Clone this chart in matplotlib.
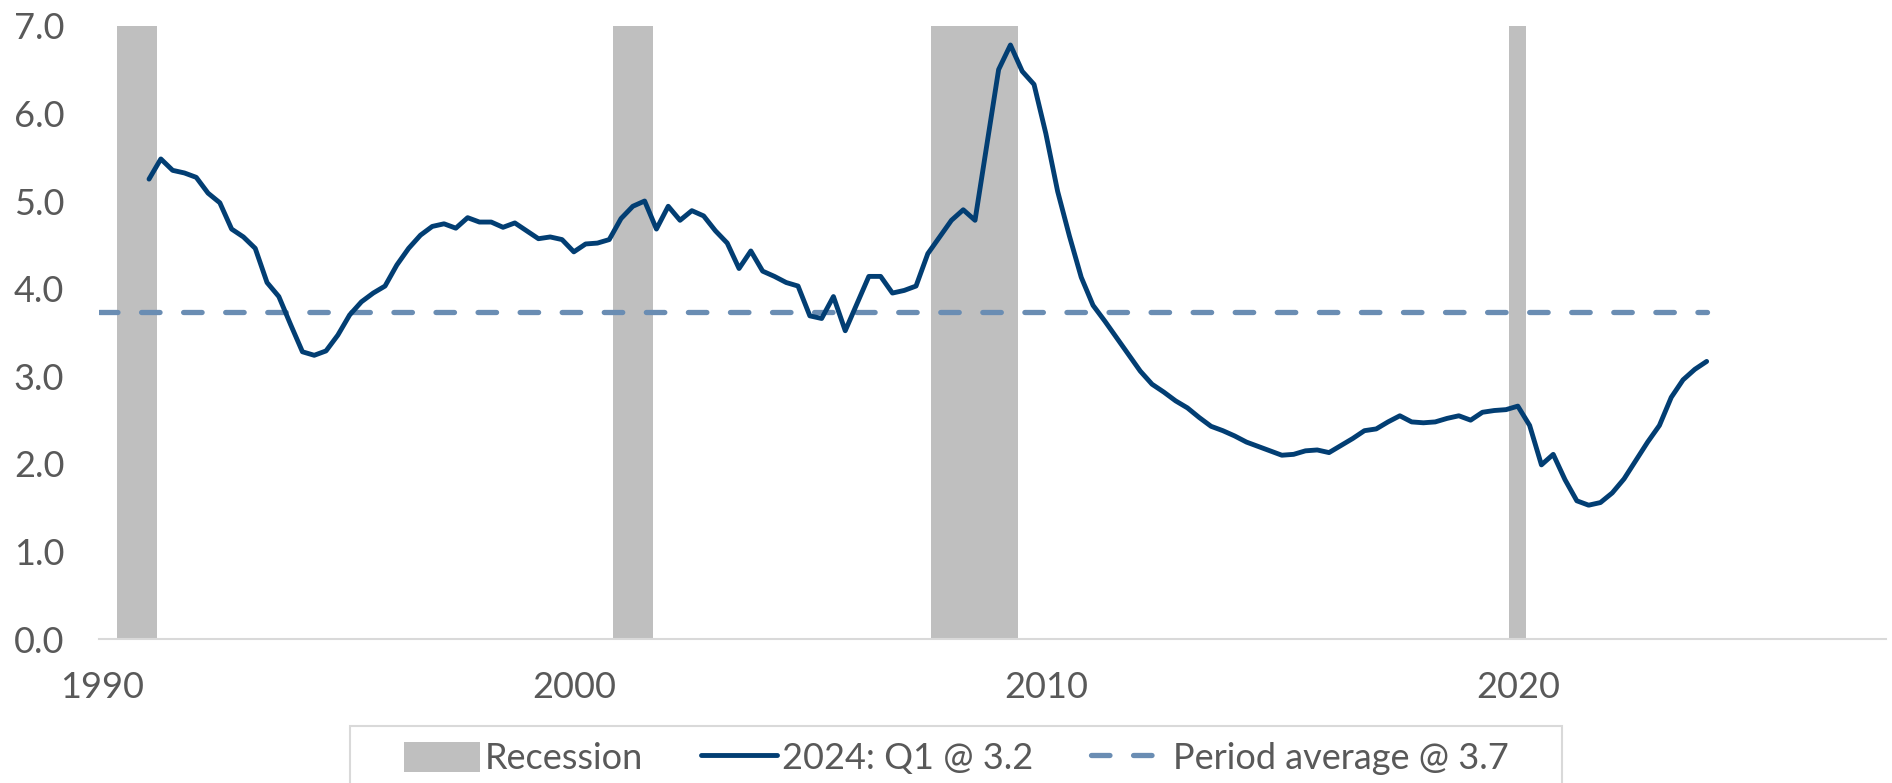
import numpy as np
import matplotlib
matplotlib.use("Agg")
import matplotlib.pyplot as plt
from matplotlib.patches import Patch, Rectangle
from matplotlib.lines import Line2D


#quarterly series, 1991 Q1 .. 2024 Q1
first_year = 1991
values = [
    5.25, 5.48, 5.35, 5.32,   #1991
    5.27, 5.09, 4.98, 4.68,   #1992
    4.59, 4.46, 4.07, 3.91,   #1993
    3.59, 3.28, 3.24, 3.29,   #1994
    3.47, 3.70, 3.85, 3.95,   #1995
    4.03, 4.27, 4.46, 4.61,   #1996
    4.71, 4.74, 4.69, 4.81,   #1997
    4.76, 4.76, 4.70, 4.75,   #1998
    4.66, 4.57, 4.59, 4.56,   #1999
    4.42, 4.51, 4.52, 4.56,   #2000
    4.80, 4.94, 5.00, 4.68,   #2001
    4.94, 4.78, 4.89, 4.83,   #2002
    4.66, 4.52, 4.23, 4.43,   #2003
    4.20, 4.14, 4.07, 4.03,   #2004
    3.69, 3.66, 3.91, 3.52,   #2005
    3.83, 4.14, 4.14, 3.95,   #2006
    3.98, 4.03, 4.40, 4.59,   #2007
    4.78, 4.90, 4.78, 5.64,   #2008
    6.50, 6.78, 6.48, 6.33,   #2009
    5.77, 5.11, 4.60, 4.13,   #2010
    3.81, 3.63, 3.44, 3.25,   #2011
    3.06, 2.91, 2.82, 2.72,   #2012
    2.64, 2.53, 2.43, 2.38,   #2013
    2.32, 2.25, 2.20, 2.15,   #2014
    2.10, 2.11, 2.15, 2.16,   #2015
    2.13, 2.21, 2.29, 2.38,   #2016
    2.40, 2.48, 2.55, 2.48,   #2017
    2.47, 2.48, 2.52, 2.55,   #2018
    2.50, 2.59, 2.61, 2.62,   #2019
    2.66, 2.44, 1.99, 2.11,   #2020
    1.82, 1.58, 1.53, 1.56,   #2021
    1.67, 1.83, 2.04, 2.25,   #2022
    2.44, 2.76, 2.96, 3.08,   #2023
    3.17,                     #2024
]
period_avg = 3.73

#recessions, first and last quarter (decimal year)
recession_start = [1990.5, 2001.0, 2007.75, 2020.0]
recession_end = [1991.0, 2001.5, 2009.25, 2020.0]

x_ticks = [1990, 2000, 2010, 2020]
y_ticks = [0, 1, 2, 3, 4, 5, 6, 7]

labels = ["Recession", "2024: Q1 @ 3.2", "Period average @ 3.7"]

line_color = "#023e73"
avg_color = "#6a8db3"
rec_color = "#bfbfbf"
text_color = "#595959"
axis_color = "#d9d9d9"

plt.rcParams['font.family'] = ['Lato', 'DejaVu Sans']

W, H = 1892, 783
x = first_year + 0.25 * np.arange(len(values))
x_left, x_right = 1989.94, 2027.8
avg_dash = (0, (3.5, 4.47))

fig = plt.figure(figsize=(W / 100, H / 100), dpi=100)
ax = fig.add_axes([99 / W, 1 - 639.3 / H, 1787 / W, 613.6 / H])

for s, e in zip(recession_start, recession_end):
    ax.axvspan(s - 0.18, e + 0.17, color=rec_color, lw=0, zorder=1)

ax.plot([x_left, x[-1]], [period_avg, period_avg], color=avg_color, lw=3.8,
        ls=avg_dash, dash_capstyle='round', zorder=2)
ax.plot(x, values, color=line_color, lw=3.5, solid_joinstyle='round',
        solid_capstyle='round', zorder=3)

ax.set_xlim(x_left, x_right)
ax.set_ylim(0, 7)
ax.set_xticks(x_ticks)
ax.set_xticklabels([str(t) for t in x_ticks])
ax.set_yticks(y_ticks)
ax.set_yticklabels([f"{t:.1f}" for t in y_ticks])
ax.tick_params(axis='both', length=0, labelsize=26, labelcolor=text_color)
ax.tick_params(axis='y', pad=25)
ax.tick_params(axis='x', pad=23)

for side in ['top', 'right', 'left']:
    ax.spines[side].set_visible(False)
ax.spines['bottom'].set_color(axis_color)
ax.spines['bottom'].set_linewidth(1.5)

#legend without its own frame, box drawn separately (it runs off the bottom edge)
handles = [
    Patch(facecolor=rec_color, edgecolor='none'),
    Line2D([], [], color=line_color, lw=3.5, solid_capstyle='round'),
    Line2D([], [], color=avg_color, lw=3.8, ls=avg_dash, dash_capstyle='round'),
]
leg = fig.legend(handles, labels, loc='upper center', bbox_to_anchor=(956 / W, 1 - 729 / H),
                 ncol=3, fontsize=26, frameon=False, handlelength=2.1,
                 handleheight=0.9, handletextpad=0.15, columnspacing=1.6,
                 borderpad=0.35, borderaxespad=0)
for t in leg.get_texts():
    t.set_color(text_color)

box = Rectangle((350 / W, -0.05), (1562 - 350) / W, 1 - 726 / H + 0.05,
                transform=fig.transFigure, facecolor='none', edgecolor=axis_color, lw=1.5)
fig.add_artist(box)

fig.savefig("out.png", dpi=100)
